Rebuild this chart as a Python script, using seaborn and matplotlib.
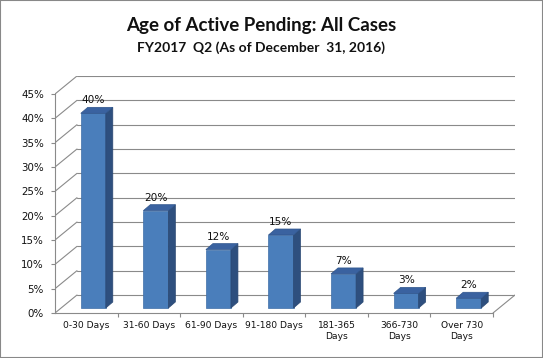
import numpy as np
import pandas as pd
import seaborn as sns
import matplotlib.pyplot as plt
from matplotlib.patches import Polygon, Rectangle

# Data
categories = ["0-30 Days", "31-60 Days", "61-90 Days", "91-180 Days",
              "181-365\nDays", "366-730\nDays", "Over 730\nDays"]
shares = [40, 20, 12, 15, 7, 3, 2]
yticks = [0, 5, 10, 15, 20, 25, 30, 35, 40, 45]

data = pd.DataFrame({"Age": categories, "Share": shares})

sns.set_style("white")
plt.rcParams["font.family"] = ["DejaVu Sans"]

W, H = 543, 358
fig = plt.figure(figsize=(W / 100, H / 100), dpi=100)

# pixel helpers (front plane: x -0.5..6.5 -> 55..493 px, y 0..45 -> 313..94 px)
px_x = (493 - 55) / 7.0
px_y = (313 - 94) / 45.0
dxb, dyb = 22 / px_x, 18 / px_y          # back wall offset
bx, by = 7 / px_x, 5 / px_y              # bar front offset
ddx, ddy = 7 / px_x, 6 / px_y            # bar depth

x_right = 6.5 + dxb
y_top = 45 + dyb
ax = fig.add_axes([55 / W, (H - 313) / H, (493 + 22 - 55) / W, (313 - 94 + 18) / H])

grid_c = "#8A8A8A"
# back wall gridlines and left wall slants
for v in yticks:
    ax.plot([-0.5 + dxb, x_right], [v + dyb, v + dyb], color=grid_c, lw=0.8, zorder=0)
    ax.plot([-0.5, -0.5 + dxb], [v, v + dyb], color=grid_c, lw=0.8, zorder=0)
# floor right edge
ax.plot([6.5, 6.5 + dxb], [0, dyb], color=grid_c, lw=0.8, zorder=0)

sns.barplot(data=data, x="Age", y="Share", width=0.4, color="#4A7EBB",
            saturation=1, ax=ax, zorder=3, edgecolor="#3F6EA8", linewidth=0.5)

for p, val in zip(ax.patches, shares):
    p.set_x(p.get_x() + bx)
    p.set_y(by)
    x0, w, y0, h = p.get_x(), p.get_width(), p.get_y(), p.get_height()
    side = Polygon([(x0 + w, y0), (x0 + w + ddx, y0 + ddy),
                    (x0 + w + ddx, y0 + h + ddy), (x0 + w, y0 + h)],
                   closed=True, facecolor="#2E4F7E", edgecolor="#2A4872", lw=0.5, zorder=3)
    top = Polygon([(x0, y0 + h), (x0 + ddx, y0 + h + ddy),
                   (x0 + w + ddx, y0 + h + ddy), (x0 + w, y0 + h)],
                  closed=True, facecolor="#3A62A0", edgecolor="#2F558C", lw=0.5, zorder=3)
    ax.add_patch(side)
    ax.add_patch(top)
    ax.text(x0 + w / 2, y0 + h + ddy + 0.4, f"{val}%", ha="center", va="bottom",
            fontsize=7.6, color="#111111", zorder=4)

ax.set_xlim(-0.5, x_right)
ax.set_ylim(0, y_top)
ax.set_xlabel("")
ax.set_ylabel("")

for s in ["top", "right"]:
    ax.spines[s].set_visible(False)
ax.spines["left"].set_bounds(0, 45)
ax.spines["bottom"].set_bounds(-0.5, 6.5)
for s in ["left", "bottom"]:
    ax.spines[s].set_color(grid_c)
    ax.spines[s].set_linewidth(0.8)

ax.set_yticks(yticks)
ax.set_yticklabels([f"{v}%" for v in yticks], fontsize=7.4, color="#111111")
ax.tick_params(axis="y", length=3, width=0.8, color=grid_c, pad=5, left=True)

ax.set_xticks(range(len(categories)))
ax.set_xticklabels(categories, fontsize=6.6, color="#111111")
ax.set_xticks(np.arange(0.5, 7, 1), minor=True)
ax.tick_params(axis="x", which="major", length=0, pad=6)
ax.tick_params(axis="x", which="minor", length=3, width=0.8, color=grid_c, bottom=True)

fig.text(261 / W, 1 - 25 / H, "Age of Active Pending: All Cases", ha="center", va="center",
         fontsize=13.5, fontweight="bold", family="Lato", color="#111111")
fig.text(261 / W, 1 - 48 / H, "FY2017  Q2 (As of December  31, 2016)", ha="center", va="center",
         fontsize=10, fontweight="bold", family="Lato", color="#111111")

fig.patches.append(Rectangle((0, 0), 1, 1, transform=fig.transFigure, fill=False,
                             edgecolor="#888888", lw=1.5))

fig.savefig("out.png", dpi=100)
